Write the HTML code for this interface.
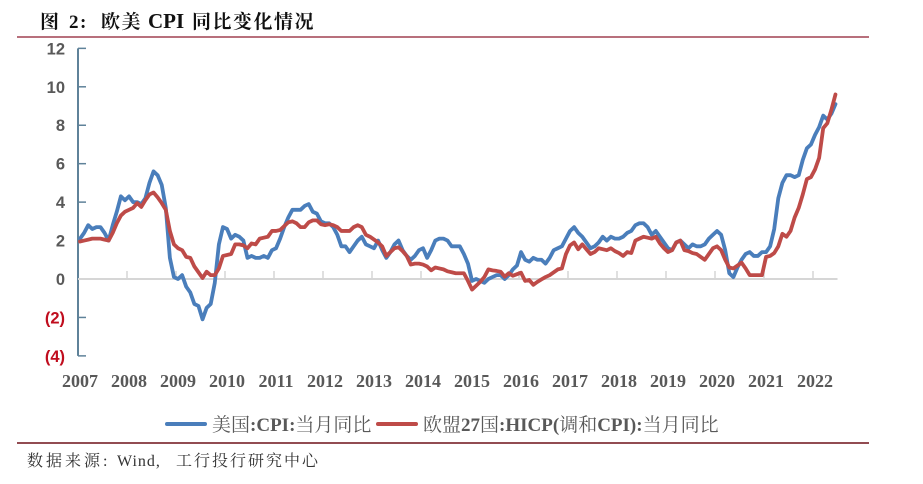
<!DOCTYPE html>
<html lang="zh">
<head>
<meta charset="utf-8">
<title>欧美 CPI 同比变化情况</title>
<style>
html,body{margin:0;padding:0;background:#fff;}
body{width:923px;height:484px;overflow:hidden;position:relative;}
svg{position:absolute;left:0;top:0;display:block;filter:blur(0.3px);}
.serif{font-family:"Liberation Serif","Noto Serif CJK SC",serif;}
</style>
</head>
<body>
<svg id="chart" width="923" height="484" viewBox="0 0 923 484" xmlns="http://www.w3.org/2000/svg">
  <text class="serif" y="28" font-size="19" font-weight="700" fill="#111" letter-spacing="1.5"><tspan x="40">图</tspan><tspan x="69">2:</tspan><tspan x="101">欧美</tspan><tspan x="148" font-size="21" letter-spacing="0">CPI</tspan><tspan x="192">同比变化情况</tspan></text>
  <line x1="17" x2="869" y1="37" y2="37" stroke="#b8707c" stroke-width="2"/>
  <g id="axes"></g>
  <g id="series"></g>
  <g>
    <line x1="167" x2="205" y1="424" y2="424" stroke="#4a7ebb" stroke-width="4" stroke-linecap="round"/>
    <text class="serif" x="212" y="431" font-size="19" fill="#595959">美国<tspan font-weight="700">:CPI:</tspan>当月同比</text>
    <line x1="378" x2="416" y1="424" y2="424" stroke="#be4b48" stroke-width="4" stroke-linecap="round"/>
    <text class="serif" x="423" y="431" font-size="19" fill="#595959">欧盟<tspan font-weight="700">27</tspan>国<tspan font-weight="700">:HICP(</tspan>调和<tspan font-weight="700">CPI):</tspan>当月同比</text>
  </g>
  <line x1="17" x2="869" y1="443" y2="443" stroke="#6e1118" stroke-width="1.4"/>
  <text class="serif" y="466" font-size="16" fill="#333"><tspan x="27" letter-spacing="3">数据来源</tspan><tspan x="103">:</tspan><tspan x="117" letter-spacing="1">Wind,</tspan><tspan x="176" letter-spacing="2">工行投行研究中心</tspan></text>
</svg>
<script>
var yearLabels = ["2007","2008","2009","2010","2011","2012","2013","2014","2015","2016","2017","2018","2019","2020","2021","2022"];
var yTicks = [12,10,8,6,4,2,0,-2,-4];
var usCpi = [
  2.1,2.4,2.8,2.6,2.7,2.7,2.4,2.0,2.8,3.5,4.3,4.1,
  4.3,4.0,4.0,3.9,4.2,5.0,5.6,5.4,4.9,3.7,1.1,0.1,
  0.0,0.2,-0.4,-0.7,-1.3,-1.4,-2.1,-1.5,-1.3,-0.2,1.8,2.7,
  2.6,2.1,2.3,2.2,2.0,1.1,1.2,1.1,1.1,1.2,1.1,1.5,
  1.6,2.1,2.7,3.2,3.6,3.6,3.6,3.8,3.9,3.5,3.4,3.0,
  2.9,2.9,2.7,2.3,1.7,1.7,1.4,1.7,2.0,2.2,1.8,1.7,
  1.6,2.0,1.5,1.1,1.4,1.8,2.0,1.5,1.2,1.0,1.2,1.5,
  1.6,1.1,1.5,2.0,2.1,2.1,2.0,1.7,1.7,1.7,1.3,0.8,
  -0.1,0.0,-0.1,-0.2,0.0,0.1,0.2,0.2,0.0,0.2,0.5,0.7,
  1.4,1.0,0.9,1.1,1.0,1.0,0.8,1.1,1.5,1.6,1.7,2.1,
  2.5,2.7,2.4,2.2,1.9,1.6,1.7,1.9,2.2,2.0,2.2,2.1,
  2.1,2.2,2.4,2.5,2.8,2.9,2.9,2.7,2.3,2.5,2.2,1.9,
  1.6,1.5,1.9,2.0,1.8,1.6,1.8,1.7,1.7,1.8,2.1,2.3,
  2.5,2.3,1.5,0.3,0.1,0.6,1.0,1.3,1.4,1.2,1.2,1.4,
  1.4,1.7,2.6,4.2,5.0,5.4,5.4,5.3,5.4,6.2,6.8,7.0,
  7.5,7.9,8.5,8.3,8.6,9.1
];
var euHicp = [
  1.95,2.0,2.05,2.1,2.1,2.1,2.05,2.0,2.4,2.9,3.3,3.5,
  3.6,3.7,3.95,3.75,4.1,4.4,4.5,4.25,3.95,3.6,2.5,1.8,
  1.6,1.5,1.15,1.1,0.65,0.35,0.05,0.38,0.2,0.2,0.55,1.2,
  1.25,1.3,1.8,1.8,1.75,1.6,1.85,1.8,2.1,2.15,2.2,2.5,
  2.5,2.55,2.75,2.95,3.0,2.9,2.7,2.7,2.95,3.05,3.05,2.85,
  2.8,2.85,2.8,2.7,2.5,2.5,2.5,2.7,2.8,2.7,2.3,2.2,
  2.05,1.9,1.7,1.2,1.4,1.6,1.65,1.45,1.2,0.75,0.8,0.8,
  0.75,0.65,0.45,0.6,0.55,0.5,0.4,0.35,0.3,0.3,0.3,-0.1,
  -0.55,-0.35,-0.15,0.1,0.5,0.45,0.42,0.38,0.12,0.3,0.17,0.25,
  0.33,-0.1,-0.05,-0.3,-0.15,-0.02,0.1,0.2,0.35,0.5,0.55,1.3,
  1.75,1.9,1.55,1.8,1.55,1.3,1.4,1.6,1.55,1.5,1.6,1.45,
  1.35,1.2,1.4,1.35,2.0,2.1,2.2,2.15,2.1,2.2,1.85,1.6,
  1.4,1.5,1.9,2.0,1.5,1.45,1.35,1.3,1.15,1.0,1.3,1.6,
  1.7,1.5,1.0,0.6,0.55,0.7,0.85,0.55,0.2,0.2,0.2,0.2,
  1.15,1.2,1.35,1.7,2.35,2.2,2.5,3.2,3.7,4.4,5.2,5.3,
  5.7,6.3,7.85,8.1,8.8,9.6
];

var NS = 'http://www.w3.org/2000/svg';
var axisLeft = 78, monthWidth = 49 / 12;
var zeroY = 279, unitY = 19.22;
function xBand(i) { return axisLeft + i * monthWidth; }
function xPoint(i) { return axisLeft + (i + 0.5) * monthWidth; }
function yScale(v) { return zeroY - v * unitY; }
function make(tag, attrs, parent) {
  var el = document.createElementNS(NS, tag);
  for (var k in attrs) el.setAttribute(k, attrs[k]);
  parent.appendChild(el);
  return el;
}
var axes = document.getElementById('axes');
var seriesGroup = document.getElementById('series');

// y axis
var yLine = make('line', {x1: axisLeft, x2: axisLeft, y1: yScale(yTicks[0]), y2: yScale(yTicks[yTicks.length - 1]), stroke: '#5f8299', 'stroke-width': 2}, axes);



yTicks.forEach(function (v) {
  if (v !== 0) {
    var t = make('line', {x1: axisLeft, x2: axisLeft + 8, y1: yScale(v), y2: yScale(v), stroke: '#5f8299', 'stroke-width': 1.5}, axes);
    
    
  }
  var lab = make('text', {x: 65, y: yScale(v) + 6, 'text-anchor': 'end', 'font-size': 16.5, 'font-weight': 700, 'font-family': '"Liberation Sans",sans-serif', fill: v < 0 ? '#c00d1e' : '#595959'}, axes);
  lab.textContent = v < 0 ? '(' + (-v) + ')' : String(v);
  
  
});

// x axis
var xEnd = xBand(usCpi.length);
var xLine = make('line', {x1: axisLeft, x2: xEnd, y1: zeroY, y2: zeroY, stroke: '#d6d6d6', 'stroke-width': 2}, axes);



yearLabels.forEach(function (yr, n) {
  var xt = xBand(n * 12);
  if (n > 0) {
    var t = make('line', {x1: xt, x2: xt, y1: zeroY, y2: zeroY - 8, stroke: '#d6d6d6', 'stroke-width': 1.5}, axes);
    
    
  }
  var lab = make('text', {x: xt + 2, y: 387, 'text-anchor': 'middle', 'font-size': 18, 'font-weight': 700, 'font-family': '"Liberation Serif",serif', fill: '#595959'}, axes);
  lab.textContent = yr;
  
  
});

// series
function linePath(values) {
  return values.map(function (v, i) {
    return (i ? 'L' : 'M') + xPoint(i).toFixed(2) + ' ' + yScale(v).toFixed(2);
  }).join('');
}
var usLine = make('path', {d: linePath(usCpi), fill: 'none', stroke: '#4a7ebb', 'stroke-width': 3.8, 'stroke-linejoin': 'round', 'stroke-linecap': 'round'}, seriesGroup);


var euLine = make('path', {d: linePath(euHicp), fill: 'none', stroke: '#be4b48', 'stroke-width': 3.8, 'stroke-linejoin': 'round', 'stroke-linecap': 'round'}, seriesGroup);


</script>
</body>
</html>
